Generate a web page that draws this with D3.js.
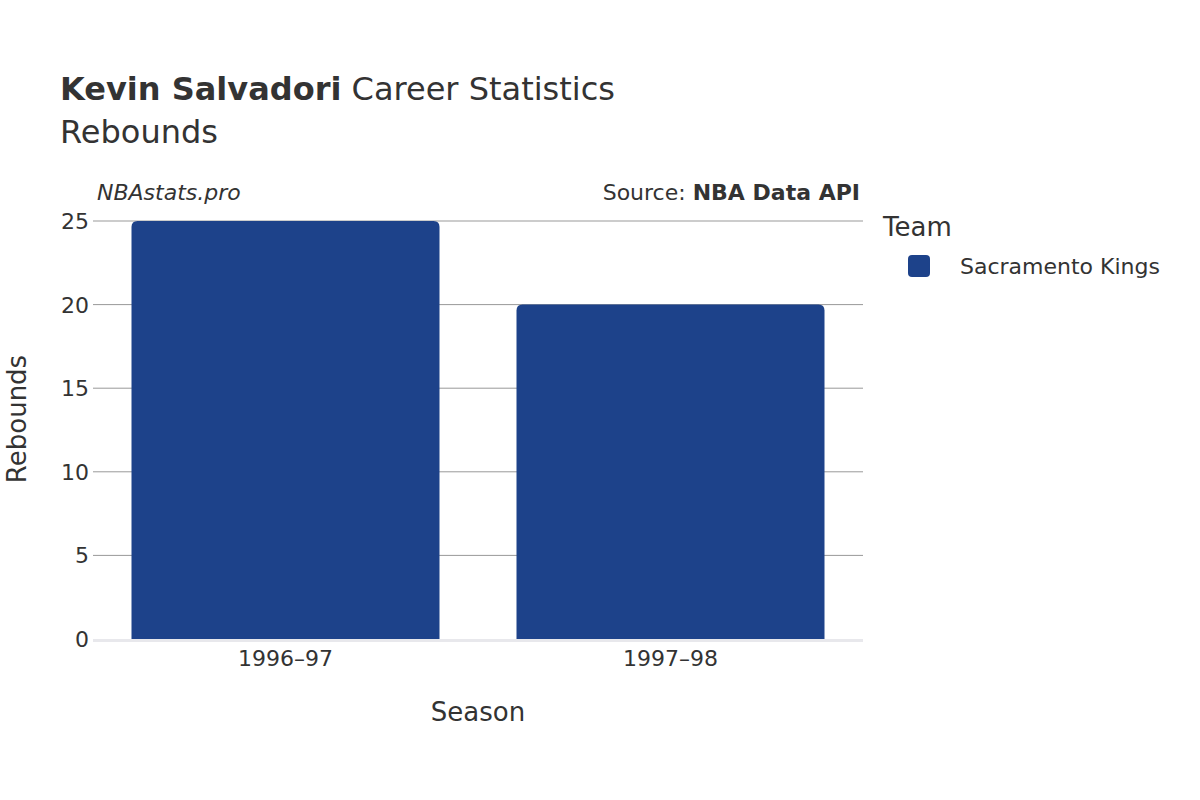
<!DOCTYPE html>
<html>
<head>
<meta charset="utf-8">
<script src="https://cdn.jsdelivr.net/npm/d3@7"></script>
<style>
  body { margin: 0; background: #fff; }
  text { font-family: "DejaVu Sans", sans-serif; fill: #333; }
</style>
</head>
<body>
<script>
  // Data
  const seasons = ['1996–97', '1997–98']
  const rebounds = [25, 20]
  const yTicks = [0, 5, 10, 15, 20, 25]
  const team = 'Sacramento Kings'
  const teamColor = '#1d428a'

  const margin = { left: 93, right: 863, top: 221, bottom: 639 }

  const svg = d3.select('body').append('svg')
    .attr('width', 1200)
    .attr('height', 800)

  const x = d3.scaleBand()
    .domain(seasons)
    .range([margin.left, margin.right])
    .paddingInner(0.2)
    .paddingOuter(0.1)
  const y = d3.scaleLinear()
    .domain([0, 25])
    .range([margin.bottom, margin.top])

  // Gridlines
  svg.append('g').selectAll('line')
    .data(yTicks.filter(d => d > 0))
    .enter().append('line')
      .attr('x1', margin.left).attr('x2', margin.right)
      .attr('y1', d => y(d)).attr('y2', d => y(d))
      .attr('stroke', '#999').attr('stroke-width', 1)

  // Bars (rounded top corners)
  const r = 6
  svg.append('g').selectAll('path')
    .data(seasons)
    .enter().append('path')
      .attr('fill', teamColor)
      .attr('d', (d, i) => {
        const x0 = x(d), x1 = x(d) + x.bandwidth()
        const y0 = y(rebounds[i]), y1 = y(0)
        return `M${x0},${y1}V${y0 + r}Q${x0},${y0} ${x0 + r},${y0}H${x1 - r}Q${x1},${y0} ${x1},${y0 + r}V${y1}Z`
      })

  // Zero line
  svg.append('line')
    .attr('x1', margin.left).attr('x2', margin.right)
    .attr('y1', y(0) + 1.5).attr('y2', y(0) + 1.5)
    .attr('stroke', '#e8e8ec').attr('stroke-width', 3)

  // Y axis labels
  svg.append('g').selectAll('text')
    .data(yTicks)
    .enter().append('text')
      .attr('x', 89).attr('y', d => y(d) + 8)
      .attr('text-anchor', 'end')
      .style('font-size', '22px')
      .text(d => d)

  // X axis labels
  svg.append('g').selectAll('text')
    .data(seasons)
    .enter().append('text')
      .attr('x', d => x(d) + x.bandwidth() / 2).attr('y', 666)
      .attr('text-anchor', 'middle')
      .style('font-size', '22px')
      .text(d => d)

  // Axis titles
  svg.append('text')
    .attr('x', 478).attr('y', 721)
    .attr('text-anchor', 'middle')
    .style('font-size', '26px')
    .text('Season')
  svg.append('text')
    .attr('transform', 'translate(26,419) rotate(-90)')
    .attr('text-anchor', 'middle')
    .style('font-size', '26px')
    .text('Rebounds')

  // Title
  const title = svg.append('text')
    .attr('x', 60).attr('y', 100)
    .style('font-size', '32px')
  title.append('tspan').style('font-weight', 'bold').text('Kevin Salvadori')
  title.append('tspan').text(' Career Statistics')
  svg.append('text')
    .attr('x', 60).attr('y', 143)
    .style('font-size', '32px')
    .text('Rebounds')

  // Watermark and source
  svg.append('text')
    .attr('x', 97).attr('y', 200)
    .style('font-size', '22px').style('font-style', 'italic')
    .text('NBAstats.pro')
  const src = svg.append('text')
    .attr('x', 860).attr('y', 200)
    .attr('text-anchor', 'end')
    .style('font-size', '22px')
  src.append('tspan').text('Source: ')
  src.append('tspan').style('font-weight', 'bold').text('NBA Data API')

  // Legend
  svg.append('text')
    .attr('x', 883).attr('y', 236)
    .style('font-size', '26px')
    .text('Team')
  svg.append('rect')
    .attr('x', 908).attr('y', 255)
    .attr('width', 22).attr('height', 22)
    .attr('rx', 4)
    .attr('fill', teamColor)
  svg.append('text')
    .attr('x', 960).attr('y', 274)
    .style('font-size', '22px')
    .text(team)
</script>
</body>
</html>
